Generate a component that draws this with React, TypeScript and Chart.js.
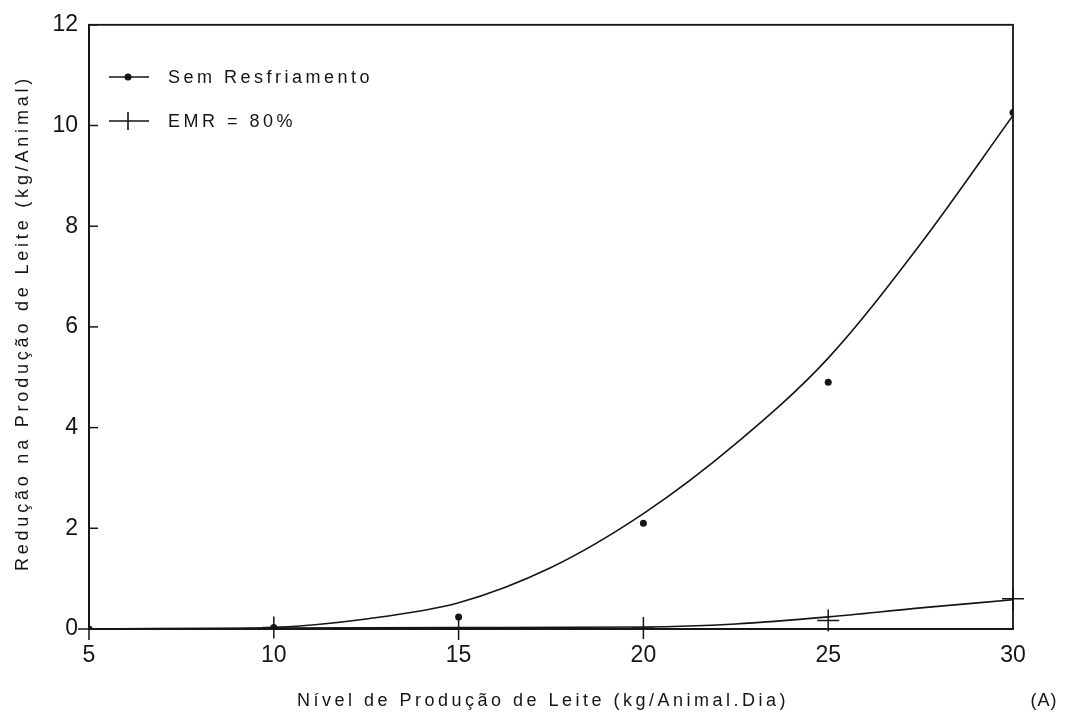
import React, { useEffect, useRef } from "react";
import { Chart, registerables } from "chart.js";

Chart.register(...registerables);

// Observed points
const pointX = [5, 10, 15, 20, 25, 30];
const semPointsY = [0, 0.03, 0.24, 2.1, 4.9, 10.26];
const emrPointsY = [0, 0.03, 0, 0.02, 0.17, 0.6];

// Fitted curves
const semCurveX = [5, 7.5, 10, 12.5, 15, 17.5, 20, 22.5, 25, 27.5, 30];
const semCurveY = [0, 0, 0.03, 0.2, 0.52, 1.22, 2.29, 3.68, 5.38, 7.65, 10.2];
const emrCurveX = [5, 10, 15, 20, 22.5, 25, 27.5, 30, 30.3];
const emrCurveY = [0, 0.02, 0.03, 0.04, 0.1, 0.24, 0.42, 0.58, 0.6];

const yTicks = [0, 2, 4, 6, 8, 10, 12];
const xTicks = [5, 10, 15, 20, 25, 30];

const legendLabels = ["Sem Resfriamento", "EMR = 80%"];
const xTitle = "Nível de Produção de Leite (kg/Animal.Dia)";
const yTitle = "Redução na Produção de Leite (kg/Animal)";
const panelLabel = "(A)";

const INK = "#151515";
const FONT = '"Liberation Sans", Arial, Helvetica, sans-serif';

const zip = (xs: number[], ys: number[]) => xs.map((x, i) => ({ x, y: ys[i] }));

const decorPlugin = {
  id: "decor",
  afterDatasetsDraw(chart: any) {
    const { ctx, chartArea, scales } = chart;
    const { left, right, top, bottom } = chartArea;
    ctx.save();
    ctx.strokeStyle = INK;
    ctx.fillStyle = INK;
    // frame
    ctx.lineWidth = 1.8;
    ctx.strokeRect(left, top, right - left, bottom - top);
    // inward y ticks
    ctx.lineWidth = 1.5;
    for (const v of yTicks) {
      const y = scales.y.getPixelForValue(v);
      ctx.beginPath();
      ctx.moveTo(left, y);
      ctx.lineTo(left + 9, y);
      ctx.stroke();
    }
    // legend
    ctx.font = `18px ${FONT}`;
    (ctx as any).letterSpacing = "3.5px";
    ctx.textBaseline = "middle";
    ctx.textAlign = "left";
    const rows = [77, 121];
    rows.forEach((yy, i) => {
      ctx.lineWidth = 1.6;
      ctx.beginPath();
      ctx.moveTo(109, yy);
      ctx.lineTo(149, yy);
      ctx.stroke();
      if (i === 0) {
        ctx.beginPath();
        ctx.arc(128, yy, 3.5, 0, Math.PI * 2);
        ctx.fill();
      } else {
        ctx.beginPath();
        ctx.moveTo(128, yy - 9);
        ctx.lineTo(128, yy + 9);
        ctx.stroke();
      }
      ctx.fillText(legendLabels[i], 168, yy + 1);
    });
    ctx.restore();

    // axis titles
    ctx.save();
    ctx.fillStyle = INK;
    ctx.font = `18px ${FONT}`;
    (ctx as any).letterSpacing = "3.5px";
    ctx.textAlign = "center";
    ctx.textBaseline = "alphabetic";
    ctx.fillText(xTitle, 543, 706);
    ctx.translate(28, 323);
    ctx.rotate(-Math.PI / 2);
    (ctx as any).letterSpacing = "3.8px";
    ctx.fillText(yTitle, 0, 0);
    ctx.restore();

    ctx.save();
    ctx.fillStyle = INK;
    ctx.font = `18px ${FONT}`;
    (ctx as any).letterSpacing = "1px";
    ctx.textAlign = "center";
    ctx.fillText(panelLabel, 1044, 706);
    ctx.restore();
  },
};

export default function App() {
  const ref = useRef<HTMLCanvasElement | null>(null);
  useEffect(() => {
    if (!ref.current) return;
    const chart = new Chart(ref.current, {
      type: "scatter",
      data: {
        datasets: [
          {
            label: "Sem Resfriamento curve",
            data: zip(semCurveX, semCurveY),
            showLine: true,
            borderColor: INK,
            borderWidth: 1.6,
            pointRadius: 0,
            cubicInterpolationMode: "monotone",
          } as any,
          {
            label: "EMR curve",
            data: zip(emrCurveX, emrCurveY),
            showLine: true,
            borderColor: INK,
            borderWidth: 1.6,
            pointRadius: 0,
            cubicInterpolationMode: "monotone",
            clip: false,
          } as any,
          {
            label: legendLabels[0],
            data: zip(pointX, semPointsY),
            showLine: false,
            pointStyle: "circle",
            pointRadius: 3.5,
            backgroundColor: INK,
            borderColor: INK,
            borderWidth: 0,
          } as any,
          {
            label: legendLabels[1],
            data: zip(pointX, emrPointsY),
            showLine: false,
            pointStyle: "cross",
            pointRadius: 11,
            borderColor: INK,
            borderWidth: 1.5,
            clip: false,
          } as any,
        ],
      },
      options: {
        animation: false,
        responsive: false,
        maintainAspectRatio: false,
        layout: { padding: { left: 0, right: 56, top: 22, bottom: 0 } },
        plugins: { legend: { display: false }, tooltip: { enabled: false } },
        scales: {
          x: {
            type: "linear",
            min: 5,
            max: 30,
            afterBuildTicks: (s: any) => {
              s.ticks = xTicks.map((v) => ({ value: v }));
            },
            afterFit: (s: any) => {
              s.height = 86;
            },
            grid: { display: false, drawTicks: false },
            border: { display: true, color: INK, width: 1.8 },
            ticks: {
              color: INK,
              font: { family: FONT, size: 23 },
              padding: 13,
              maxRotation: 0,
            },
          },
          y: {
            type: "linear",
            min: 0,
            max: 12,
            afterBuildTicks: (s: any) => {
              s.ticks = yTicks.map((v) => ({ value: v }));
            },
            afterFit: (s: any) => {
              s.width = 89;
            },
            grid: { display: false, drawTicks: false },
            border: { display: true, color: INK, width: 1.8 },
            ticks: {
              color: INK,
              font: { family: FONT, size: 23 },
              padding: 11,
            },
          },
        },
      },
      plugins: [decorPlugin],
    } as any);
    return () => chart.destroy();
  }, []);
  return (
    <div style={{ position: "fixed", left: 0, top: 0, width: 1069, height: 715, background: "#fff" }}>
      <canvas ref={ref} width={1069} height={715} style={{ display: "block" }} />
    </div>
  );
}
